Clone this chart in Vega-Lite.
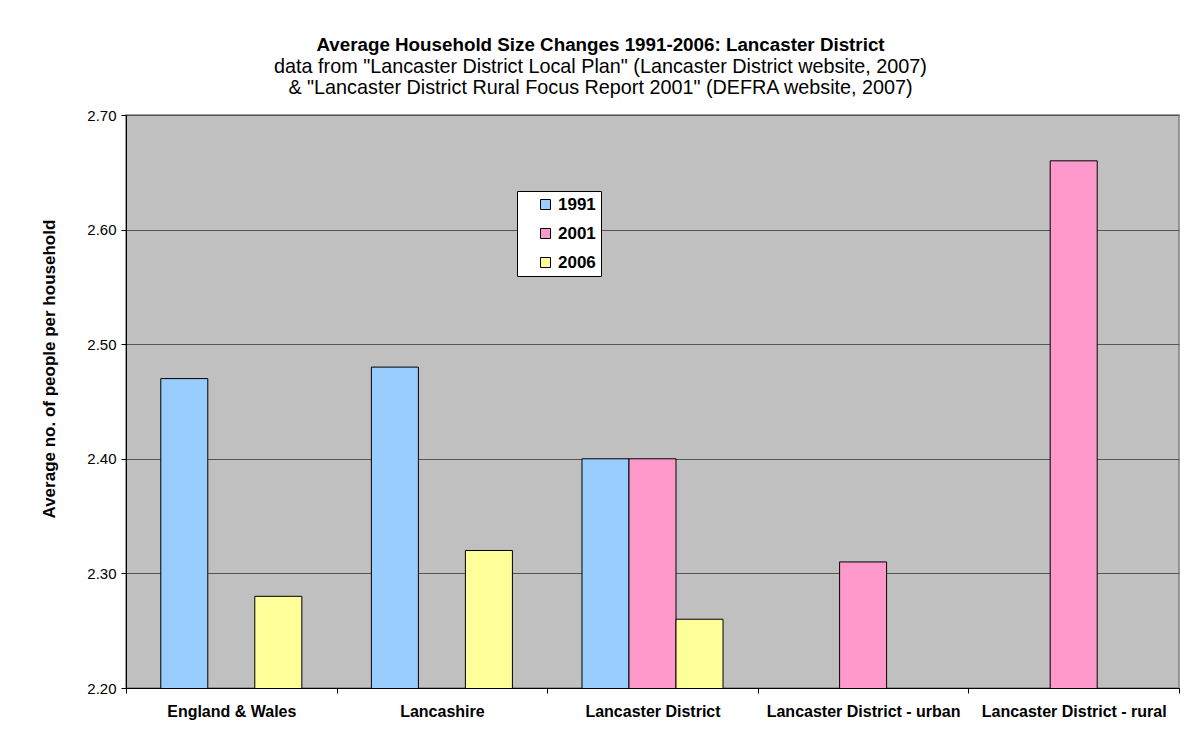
{
  "$schema": "https://vega.github.io/schema/vega-lite/v6.json",
  "width": 1053,
  "height": 573,
  "autosize": {"type": "none"},
  "padding": {"left": 126, "top": 115, "right": 18, "bottom": 46},
  "background": "white",
  "title": {
    "text": "Average Household Size Changes 1991-2006: Lancaster District",
    "subtitle": [
      "data from \"Lancaster District Local Plan\" (Lancaster District website, 2007)",
      "& \"Lancaster District Rural Focus Report 2001\" (DEFRA website, 2007)"
    ],
    "anchor": "middle",
    "frame": "group",
    "dx": -52,
    "offset": 10,
    "font": "Liberation Sans",
    "fontSize": 18.8,
    "fontWeight": "bold",
    "color": "black",
    "subtitleFont": "Liberation Sans",
    "subtitleFontSize": 19.8,
    "subtitleColor": "black",
    "subtitlePadding": 2,
    "subtitleLineHeight": 21
  },
  "data": {
    "values": [
      {"area": "England & Wales", "year": "1991", "size": 2.47},
      {"area": "England & Wales", "year": "2006", "size": 2.28},
      {"area": "Lancashire", "year": "1991", "size": 2.48},
      {"area": "Lancashire", "year": "2006", "size": 2.32},
      {"area": "Lancaster District", "year": "1991", "size": 2.40},
      {"area": "Lancaster District", "year": "2001", "size": 2.40},
      {"area": "Lancaster District", "year": "2006", "size": 2.26},
      {"area": "Lancaster District - urban", "year": "2001", "size": 2.31},
      {"area": "Lancaster District - rural", "year": "2001", "size": 2.66}
    ]
  },
  "mark": {"type": "bar", "stroke": "black", "strokeWidth": 1, "clip": true},
  "encoding": {
    "x": {
      "field": "area",
      "type": "nominal",
      "sort": null,
      "scale": {
        "domain": ["England & Wales", "Lancashire", "Lancaster District", "Lancaster District - urban", "Lancaster District - rural"],
        "paddingInner": 0,
        "paddingOuter": 0
      },
      "axis": {
        "title": null,
        "labelAngle": 0,
        "labelFont": "Liberation Sans",
        "labelFontSize": 16,
        "labelFontWeight": "bold",
        "labelColor": "black",
        "labelPadding": 10,
        "labelLimit": 0,
        "tickBand": "extent",
        "tickSize": 5,
        "tickColor": "black",
        "domainColor": "black",
        "grid": false
      }
    },
    "xOffset": {
      "field": "year",
      "type": "nominal",
      "scale": {"domain": ["1991", "2001", "2006"], "paddingInner": 0, "paddingOuter": 0.74}
    },
    "y": {
      "field": "size",
      "type": "quantitative",
      "scale": {"domain": [2.2, 2.7], "nice": false, "zero": false},
      "axis": {
        "title": "Average no. of people per household",
        "titleFont": "Liberation Sans",
        "titleFontSize": 17,
        "titleFontWeight": "bold",
        "titleColor": "black",
        "titleAngle": 270,
        "titleAlign": "left",
        "titleBaseline": "alphabetic",
        "titleX": -72,
        "titleY": 403,
        "values": [2.2, 2.3, 2.4, 2.5, 2.6, 2.7],
        "format": ".2f",
        "labelFont": "Liberation Sans",
        "labelFontSize": 15,
        "labelColor": "black",
        "labelPadding": 5,
        "tickSize": 5,
        "tickColor": "black",
        "domainColor": "black",
        "grid": true,
        "gridColor": "#555555",
        "gridWidth": 1
      }
    },
    "color": {
      "field": "year",
      "type": "nominal",
      "scale": {"domain": ["1991", "2001", "2006"], "range": ["#99CCFF", "#FF99CC", "#FFFF99"]},
      "legend": {
        "title": null,
        "orient": "none",
        "legendX": 391,
        "legendY": 76,
        "fillColor": "white",
        "strokeColor": "black",
        "padding": 5,
        "symbolType": "square",
        "symbolSize": 100,
        "symbolStrokeColor": "black",
        "symbolStrokeWidth": 1,
        "symbolOffset": 15,
        "labelFont": "Liberation Sans",
        "labelFontSize": 17,
        "labelFontWeight": "bold",
        "labelColor": "black",
        "labelOffset": 4,
        "rowPadding": 11
      }
    }
  },
  "config": {
    "view": {"fill": "#C0C0C0", "stroke": "#808080", "strokeWidth": 1.5}
  }
}
